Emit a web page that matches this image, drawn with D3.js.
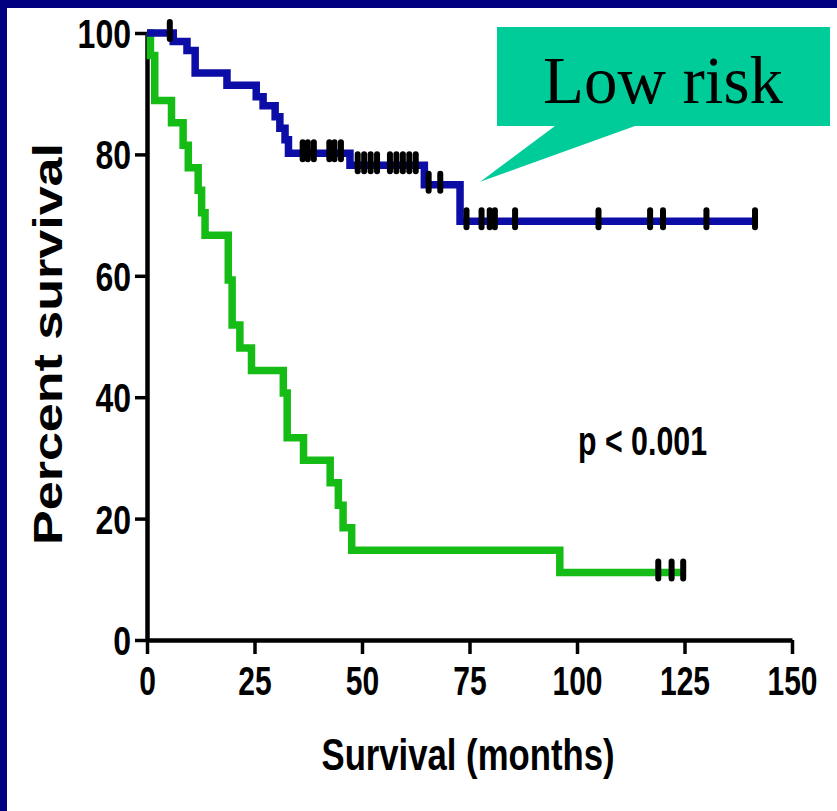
<!DOCTYPE html>
<html>
<head>
<meta charset="utf-8">
<script src="https://cdn.jsdelivr.net/npm/d3@7"></script>
<style>
  html, body { margin: 0; padding: 0; background: #000080; }
  svg { display: block; }
</style>
</head>
<body>
<svg id="chart" width="837" height="811"></svg>
<script>
// ---------- DATA ----------
const xTicks = [0, 25, 50, 75, 100, 125, 150];
const yTicks = [0, 20, 40, 60, 80, 100];

// Low risk (blue): times of drops and survival after each drop (%)
const lowTimes = [0, 6.1, 9.3, 11.2, 18.6, 25.4, 27.0, 29.8, 30.9, 32.1, 32.9, 47.2, 64.5, 72.8];
const lowSurv  = [100, 98.6, 97.1, 93.4, 91.4, 89.5, 88.0, 86.2, 84.3, 82.4, 80.2, 78.2, 75.0, 69.0];
const lowEnd = 141.4;
const lowCensor = [5.3, 36.2, 37.4, 38.8, 42.4, 43.6, 45.1, 49.0, 50.5, 52.0, 53.5, 56.5, 58.0,
                   59.5, 61.0, 62.5, 65.5, 68.2, 74.3, 77.8, 79.7, 80.9, 85.6, 105.0, 117.0,
                   120.0, 130.1, 141.4];

// High risk (green)
const highTimes = [0, 0.8, 1.8, 5.7, 8.4, 9.6, 11.9, 12.7, 13.5, 18.9, 19.8, 21.6, 24.3,
                   31.7, 32.6, 36.4, 42.6, 44.5, 45.6, 47.6, 96.0];
const highSurv  = [100, 96.3, 88.9, 85.2, 81.5, 77.8, 74.1, 70.4, 66.7, 59.3, 51.9, 48.1, 44.4,
                   40.7, 33.3, 29.6, 25.9, 22.2, 18.5, 14.8, 11.1];
const highEnd = 125.1;
const highCensor = [118.9, 122.0, 124.7];

const calloutText = "Low risk";
const pText = "p < 0.001";
const xTitle = "Survival (months)";
const yTitle = "Percent survival";

// ---------- LAYOUT ----------
const svg = d3.select("#chart");
const W = 837, H = 811;
svg.append("rect").attr("x", 0).attr("y", 0).attr("width", W).attr("height", H).attr("fill", "#000080");
svg.append("rect").attr("x", 7).attr("y", 8).attr("width", W - 7).attr("height", H - 8).attr("fill", "#ffffff");

const x = d3.scaleLinear().domain([0, 150]).range([147, 792]);
const y = d3.scaleLinear().domain([0, 100]).range([640, 33]);

const FONT = "'Liberation Sans', Arial, Helvetica, sans-serif";

function condense(sel, ratio) {
  sel.each(function () {
    const w = this.getComputedTextLength();
    d3.select(this).attr("textLength", w * ratio).attr("lengthAdjust", "spacingAndGlyphs");
  });
}

// Axes
const yAxis = svg.append("g").attr("transform", `translate(${x(0)},0)`)
  .call(d3.axisLeft(y).tickValues(yTicks).tickSize(12).tickSizeOuter(0).tickPadding(4));
const xAxis = svg.append("g").attr("transform", `translate(0,${y(0)})`)
  .call(d3.axisBottom(x).tickValues(xTicks).tickSize(14).tickSizeOuter(0).tickPadding(12));

[yAxis, xAxis].forEach(g => {
  g.select(".domain").attr("stroke", "#000").attr("stroke-width", 4.5);
  g.selectAll(".tick line").attr("stroke", "#000").attr("stroke-width", 3.5);
  g.selectAll(".tick text")
    .attr("fill", "#000")
    .style("font-family", FONT)
    .style("font-weight", "bold")
    .style("font-size", "40px");
});
yAxis.selectAll(".tick text").attr("dy", "0.36em");
xAxis.selectAll(".tick text").attr("dy", "0.72em");
condense(yAxis.selectAll(".tick text"), 0.8);
condense(xAxis.selectAll(".tick text"), 0.75);

// Curves
function stepPoints(times, surv, end) {
  const pts = times.map((t, i) => [t, surv[i]]);
  pts.push([end, surv[surv.length - 1]]);
  return pts;
}
function survAt(times, surv, t) {
  let s = surv[0];
  for (let i = 0; i < times.length; i++) if (times[i] <= t) s = surv[i];
  return s;
}
const line = d3.line().x(d => x(d[0])).y(d => y(d[1])).curve(d3.curveStepAfter);

svg.append("path").datum(stepPoints(highTimes, highSurv, highEnd))
  .attr("d", line).attr("fill", "none").attr("stroke", "#16BC16").attr("stroke-width", 7.5)
  .attr("stroke-linejoin", "miter");
svg.append("path").datum(stepPoints(lowTimes, lowSurv, lowEnd))
  .attr("d", line).attr("fill", "none").attr("stroke", "#0C0CA6").attr("stroke-width", 7.5)
  .attr("stroke-linejoin", "miter");

function censors(list, times, surv) {
  svg.append("g").selectAll("line").data(list).join("line")
    .attr("x1", d => x(d)).attr("x2", d => x(d))
    .attr("y1", d => y(survAt(times, surv, d)) - 11)
    .attr("y2", d => y(survAt(times, surv, d)) + 6)
    .attr("stroke", "#000").attr("stroke-width", 6).attr("stroke-linecap", "round");
}
censors(lowCensor, lowTimes, lowSurv);
censors(highCensor, highTimes, highSurv);

// Callout
const tipX = x(77.5), tipY = y(75.5);
svg.append("path")
  .attr("d", `M497,27 H830 V126 H635 L${tipX},${tipY} L555,126 H497 Z`)
  .attr("fill", "#00CC99");
svg.append("text").attr("x", 663).attr("y", 103).attr("text-anchor", "middle")
  .style("font-family", "'Liberation Serif', 'Times New Roman', serif")
  .style("font-size", "67px").attr("fill", "#000").text(calloutText);

// p value
svg.append("text").attr("x", 578).attr("y", 455)
  .style("font-family", FONT).style("font-weight", "bold").style("font-size", "40px")
  .attr("fill", "#000").attr("textLength", 129).attr("lengthAdjust", "spacingAndGlyphs")
  .text(pText);

// Axis titles
svg.append("text").attr("x", 468).attr("y", 770).attr("text-anchor", "middle")
  .style("font-family", FONT).style("font-weight", "bold").style("font-size", "44px")
  .attr("fill", "#000").attr("textLength", 293).attr("lengthAdjust", "spacingAndGlyphs")
  .text(xTitle);

svg.append("text").attr("transform", "translate(62,344) rotate(-90)")
  .attr("text-anchor", "middle")
  .style("font-family", FONT).style("font-weight", "bold").style("font-size", "40px")
  .attr("fill", "#000").attr("textLength", 402).attr("lengthAdjust", "spacingAndGlyphs")
  .text(yTitle);
</script>
</body>
</html>
